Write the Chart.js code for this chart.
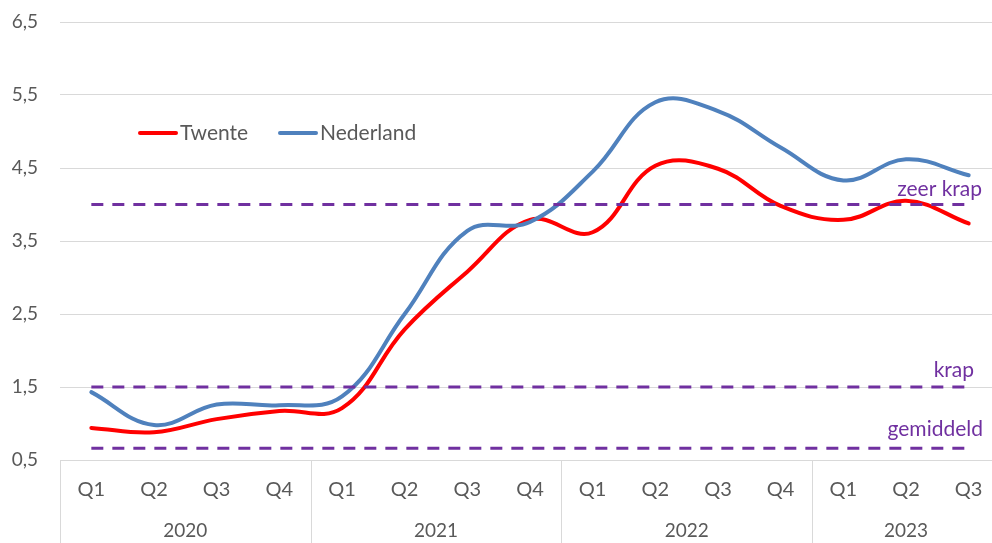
<!DOCTYPE html>
<html>
<head>
<meta charset="utf-8">
<script src="https://cdn.jsdelivr.net/npm/chart.js@4/dist/chart.umd.min.js"></script>
<style>
  html, body { margin: 0; padding: 0; background: #fff; overflow: hidden; }
  #wrap { width: 1000px; height: 543px; position: relative; }
</style>
</head>
<body>
<div id="wrap"><canvas id="c" width="1000" height="543"></canvas></div>
<script>
// ---- data ----
const categories = ['Q1','Q2','Q3','Q4','Q1','Q2','Q3','Q4','Q1','Q2','Q3','Q4','Q1','Q2','Q3'];
const years = ['2020','2021','2022','2023'];
const yearSpans = [4, 4, 4, 3];
const twente    = [0.94, 0.88, 1.06, 1.17, 1.21, 2.29, 3.08, 3.79, 3.62, 4.53, 4.49, 3.98, 3.79, 4.05, 3.74];
const nederland = [1.43, 0.98, 1.26, 1.25, 1.37, 2.50, 3.64, 3.76, 4.45, 5.40, 5.28, 4.78, 4.33, 4.62, 4.40];
const zeerKrap  = [4.0, 4.0, 4.0, 4.0, 4.0, 4.0, 4.0, 4.0, 4.0, 4.0, 4.0, 4.0, 4.0, 4.0, 4.0];
const krap      = [1.5, 1.5, 1.5, 1.5, 1.5, 1.5, 1.5, 1.5, 1.5, 1.5, 1.5, 1.5, 1.5, 1.5, 1.5];
const gemiddeld = [0.66, 0.66, 0.66, 0.66, 0.66, 0.66, 0.66, 0.66, 0.66, 0.66, 0.66, 0.66, 0.66, 0.66, 0.66];
const yTicks = [0.5, 1.5, 2.5, 3.5, 4.5, 5.5, 6.5];
const seriesNames = ['Twente', 'Nederland'];
const refNames = ['zeer krap', 'krap', 'gemiddeld'];

const FONT = 'Lato, "Open Sans", sans-serif';
const GRAY = '#595959';
const PURPLE = '#7030A0';
const RED = '#FF0000';
const BLUE = '#4F81BD';

const fmt = v => v.toFixed(1).replace('.', ',');

// year labels + group separators under the axis
const yearAxisPlugin = {
  id: 'yearAxis',
  afterDraw(chart) {
    const ctx = chart.ctx, x = chart.scales.x, area = chart.chartArea;
    const w = (x.right - x.left) / categories.length;
    ctx.save();
    ctx.strokeStyle = '#D9D9D9';
    ctx.lineWidth = 1;
    let idx = 0;
    ctx.font = '19px ' + FONT;
    ctx.fillStyle = GRAY;
    ctx.textAlign = 'center';
    ctx.textBaseline = 'middle';
    years.forEach((yr, i) => {
      const left = x.getPixelForValue(idx) - w / 2;
      const sx = Math.round(left) + 0.5;
      ctx.beginPath();
      ctx.moveTo(sx, area.bottom);
      ctx.lineTo(sx, chart.height);
      ctx.stroke();
      const center = (x.getPixelForValue(idx) + x.getPixelForValue(idx + yearSpans[i] - 1)) / 2;
      ctx.fillText(yr, center, 531);
      idx += yearSpans[i];
    });
    ctx.restore();
  }
};

// labels of reference lines
const refLabelPlugin = {
  id: 'refLabels',
  afterDatasetsDraw(chart, args, opts) {
    const ctx = chart.ctx, y = chart.scales.y;
    ctx.save();
    ctx.font = '21px ' + FONT;
    ctx.fillStyle = PURPLE;
    ctx.textAlign = 'right';
    ctx.textBaseline = 'middle';
    opts.items.forEach(it => {
      const ds = chart.data.datasets[it.dataset];
      const v = ds.data[ds.data.length - 1];
      ctx.fillText(ds.label, it.right, y.getPixelForValue(v) + it.dy);
    });
    ctx.restore();
  }
};

// legend inside the plot
const innerLegendPlugin = {
  id: 'innerLegend',
  afterDraw(chart, args, opts) {
    const ctx = chart.ctx;
    ctx.save();
    ctx.font = '21px ' + FONT;
    ctx.textBaseline = 'middle';
    ctx.textAlign = 'left';
    opts.items.forEach(it => {
      const ds = chart.data.datasets[it.dataset];
      ctx.strokeStyle = ds.borderColor;
      ctx.lineWidth = 4;
      ctx.lineCap = 'round';
      ctx.beginPath();
      ctx.moveTo(it.x + 2, opts.y);
      ctx.lineTo(it.x + 38, opts.y);
      ctx.stroke();
      ctx.fillStyle = GRAY;
      ctx.fillText(ds.label, it.x + 42, opts.y);
    });
    ctx.restore();
  }
};

const lineBase = { tension: 0.4, pointRadius: 0, pointHoverRadius: 0, fill: false, borderCapStyle: 'round', borderJoinStyle: 'round' };
const refBase = { tension: 0, pointRadius: 0, pointHoverRadius: 0, fill: false, borderColor: PURPLE, borderWidth: 3, borderDash: [12, 9], borderCapStyle: 'butt' };

new Chart(document.getElementById('c'), {
  type: 'line',
  data: {
    labels: categories,
    datasets: [
      Object.assign({ label: refNames[0], data: zeerKrap, order: 0 }, refBase),
      Object.assign({ label: refNames[1], data: krap, order: 0 }, refBase),
      Object.assign({ label: refNames[2], data: gemiddeld, order: 0 }, refBase),
      Object.assign({ label: seriesNames[1], data: nederland, borderColor: BLUE, borderWidth: 4, order: 1 }, lineBase),
      Object.assign({ label: seriesNames[0], data: twente, borderColor: RED, borderWidth: 4, order: 2 }, lineBase)
    ]
  },
  options: {
    responsive: false,
    animation: false,
    events: [],
    layout: { padding: { top: 22, right: 0, left: 0, bottom: 0 } },
    plugins: {
      legend: { display: false },
      tooltip: { enabled: false },
      refLabels: { items: [
        { dataset: 0, right: 982, dy: -15 },
        { dataset: 1, right: 974, dy: -17 },
        { dataset: 2, right: 983, dy: -19 }
      ] },
      innerLegend: { y: 133, items: [
        { dataset: 4, x: 138 },
        { dataset: 3, x: 278 }
      ] }
    },
    scales: {
      x: {
        type: 'category',
        offset: true,
        grid: { display: false, drawTicks: false },
        border: { display: true, color: '#D9D9D9', width: 1 },
        ticks: { color: GRAY, font: { family: FONT, size: 20 }, padding: 18, maxRotation: 0, autoSkip: false },
        afterFit(scale) { scale.height = 83; scale.paddingLeft = 0; scale.paddingRight = 0; }
      },
      y: {
        type: 'linear',
        min: 0.5,
        max: 6.5,
        afterBuildTicks(scale) { scale.ticks = yTicks.map(v => ({ value: v })); },
        grid: { color: '#D9D9D9', lineWidth: 1, drawTicks: false },
        border: { display: false },
        ticks: { color: GRAY, font: { family: FONT, size: 19 }, padding: 22, callback: v => fmt(v) },
        afterFit(scale) { scale.width = 60; scale.paddingTop = 0; scale.paddingBottom = 0; }
      }
    }
  },
  plugins: [yearAxisPlugin, refLabelPlugin, innerLegendPlugin]
});
</script>
</body>
</html>
